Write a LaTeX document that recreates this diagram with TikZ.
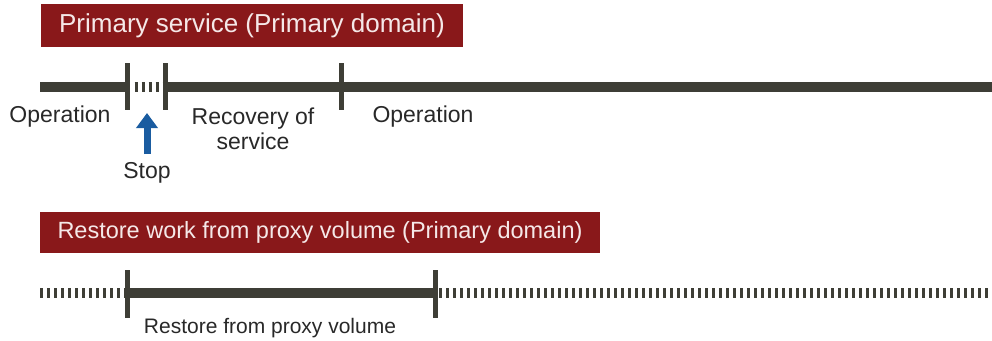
\documentclass[tikz,border=0pt]{standalone}
\usepackage{fontspec}
\setmainfont{Liberation Sans}
\usetikzlibrary{arrows.meta}
\definecolor{boxred}{RGB}{137,24,26}
\definecolor{linegray}{RGB}{62,62,54}
\definecolor{stopblue}{RGB}{26,92,160}
\definecolor{txt}{RGB}{40,40,40}
\begin{document}
\begin{tikzpicture}[x=1pt,y=-1pt,
  titlebox/.style={fill=boxred, text={rgb,255:red,245;green,232;blue,232}, inner sep=0pt, anchor=center},
  timeline/.style={line width=10pt, draw=linegray},
  dotline/.style={line width=10pt, draw=linegray, dash pattern=on 3pt off 4pt},
  tickmark/.style={line width=5pt, draw=linegray},
  lbl/.style={text=txt, inner sep=0pt, font=\fontsize{23}{25}\selectfont, align=center},
  stoparrow/.style={draw=stopblue, line width=7pt, -{Triangle[width=21pt,length=15pt]}}
]
\useasboundingbox (0,0) rectangle (992,340);

% ---- Top section ----
\node[titlebox, minimum width=422pt, minimum height=43pt, font=\fontsize{26}{30}\selectfont] (t1) at (252,25.5) {Primary service (Primary domain)};

\coordinate (a0) at (40,87);
\coordinate (a1) at (127.5,87);
\coordinate (a2) at (165.5,87);
\coordinate (a3) at (341,87);
\coordinate (a4) at (992,87);
\coordinate (a1t) at (127.5,63);
\coordinate (a1b) at (127.5,110);
\coordinate (a2t) at (165.5,63);
\coordinate (a2b) at (165.5,110);
\coordinate (a3t) at (341,63);
\coordinate (a3b) at (341,110);

\draw[timeline] (a0) -- (a1);
\draw[dotline] ([xshift=7pt]a1) -- (a2);
\draw[timeline] (a2) -- (a4);
\draw[tickmark] (a1t) -- (a1b);
\draw[tickmark] (a2t) -- (a2b);
\draw[tickmark] (a3t) -- (a3b);

\node[lbl] (op1) at (60,117) {Operation};
\node[lbl] (rec) at (253,129) {Recovery of\\service};
\node[lbl] (op2) at (423,117) {Operation};
\node[lbl] (stop) at (147,173) {Stop};
\coordinate (s0) at (147,154);
\coordinate (s1) at (147,113);
\draw[stoparrow] (s0) -- (s1);

% ---- Bottom section ----
\node[titlebox, minimum width=560pt, minimum height=41pt, font=\fontsize{23.5}{27}\selectfont] (t2) at (320,232.5) {Restore work from proxy volume (Primary domain)};

\coordinate (b0) at (40,293);
\coordinate (b1) at (127.5,293);
\coordinate (b2) at (435,293);
\coordinate (b3) at (992,293);
\coordinate (b1t) at (127.5,270);
\coordinate (b1b) at (127.5,318);
\coordinate (b2t) at (435,270);
\coordinate (b2b) at (435,318);

\draw[dotline] (b0) -- (b1);
\draw[timeline] (b1) -- (b2);
\draw[dotline] ([xshift=4pt]b2) -- (b3);
\draw[tickmark] (b1t) -- (b1b);
\draw[tickmark] (b2t) -- (b2b);

\node[lbl, font=\fontsize{21}{24}\selectfont] (rp) at (270,328) {Restore from proxy volume};
\end{tikzpicture}
\end{document}
